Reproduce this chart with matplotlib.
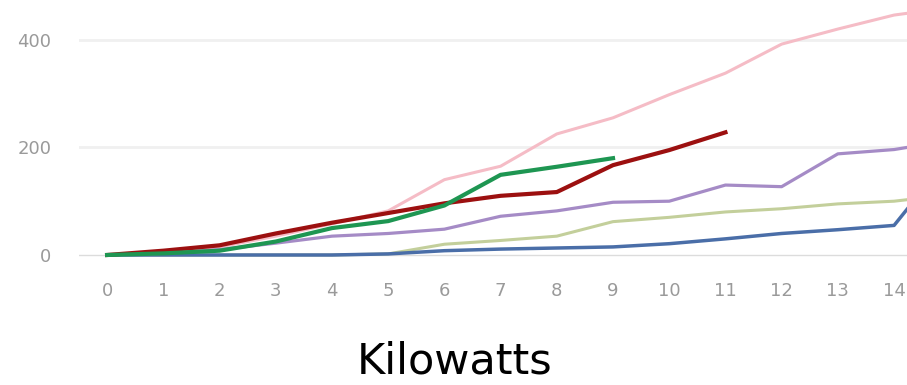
import numpy as np
import matplotlib
matplotlib.use("Agg")
import matplotlib.pyplot as plt

# x categories (kilowatts); the chart is cropped just past 14
kw = list(range(16))

pink = [0, 5, 15, 35, 58, 82, 140, 165, 225, 255, 298, 338, 392, 420, 446, 460]
olive = [0, 0, 0, 0, 0, 2, 20, 27, 35, 62, 70, 80, 86, 95, 100, 112]
blue = [0, 0, 0, 0, 0, 2, 8, 11, 13, 15, 21, 30, 40, 47, 55, 185]
purple = [0, 3, 10, 22, 35, 40, 48, 72, 82, 98, 100, 130, 127, 188, 196, 213]
red = [0, 8, 18, 40, 60, 78, 96, 110, 117, 167, 195, 228]
green = [0, 3, 8, 25, 50, 63, 92, 149, 164, 180]

fig = plt.figure(figsize=(9.07, 3.85), dpi=100)
ax = fig.add_axes([79 / 907, 0.3265, 1 - 79 / 907, 0.6735])

ax.plot(kw, pink, color="#f5bcc6", lw=2.2)
ax.plot(kw, olive, color="#c3cf9b", lw=2.2)
ax.plot(kw, blue, color="#4a6ea8", lw=2.5)
ax.plot(kw, purple, color="#a58bc6", lw=2.3)
ax.plot(kw[:len(red)], red, color="#9c1010", lw=3.0)
ax.plot(kw[:len(green)], green, color="#1e9652", lw=3.0)

ax.set_xlim(-0.5, 14.23)
ax.set_ylim(-8, 474)
ax.set_xticks(range(15))
ax.set_yticks([0, 200, 400])

for y in [200, 400]:
    ax.axhline(y, color="#f0f0f0", lw=2, zorder=0)
ax.axhline(0, color="#dcdcdc", lw=1, zorder=0.5)

for s in ax.spines.values():
    s.set_visible(False)

ax.tick_params(axis="both", length=0, colors="#9a9a9a", labelsize=13)
ax.tick_params(axis="x", pad=16)
ax.tick_params(axis="y", pad=20)

fig.text(455 / 907, 12 / 385, "Kilowatts", ha="center", va="baseline",
         fontsize=31, color="black")

fig.savefig("out.png", dpi=100)
